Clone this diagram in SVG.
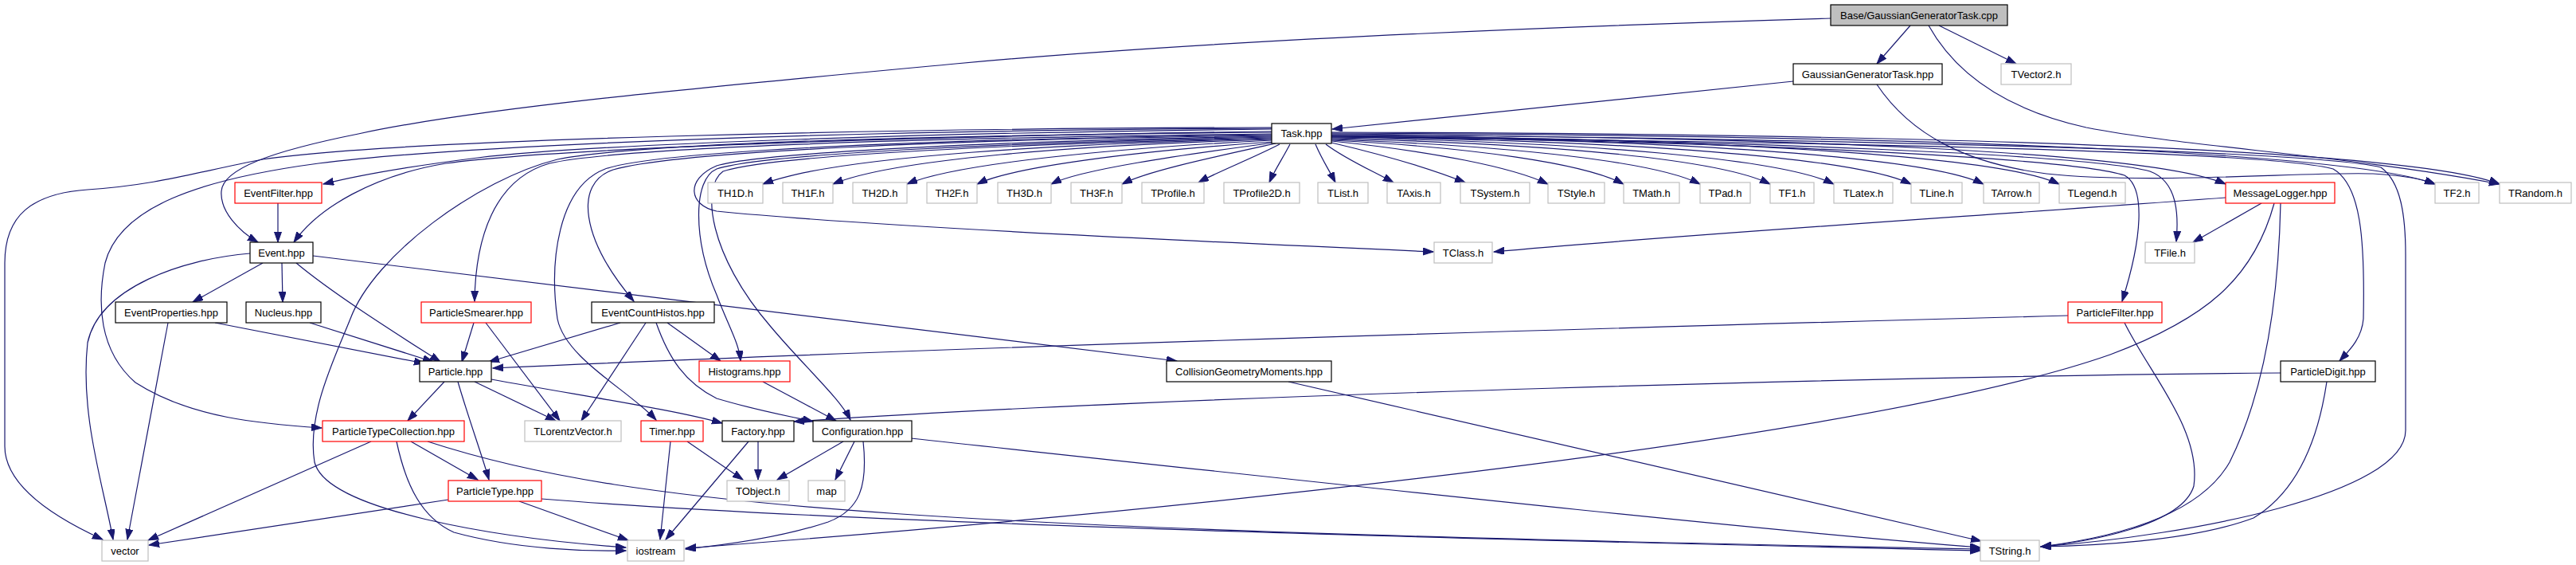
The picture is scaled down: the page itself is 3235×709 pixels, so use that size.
<svg xmlns="http://www.w3.org/2000/svg" width="3235" height="709" viewBox="0 0 3235 709">
<style>
rect{fill:#fff;stroke:#000;stroke-width:1.2}
.red rect{stroke:#ff0000}
.ext rect{stroke:#bfbfbf}
.root rect{fill:#bfbfbf}
text{font-family:"Liberation Sans",Arial,sans-serif;font-size:13px;text-anchor:middle;fill:#000}
#edges path{fill:none;stroke:#191970;stroke-width:1.2;marker-end:url(#ah)}
</style>
<defs>
<marker id="ah" markerUnits="userSpaceOnUse" markerWidth="14" markerHeight="10" refX="13" refY="4.5" orient="auto">
<path d="M0,0 L13,4.5 L0,9 z" fill="#191970" stroke="#191970" stroke-width="1"/>
</marker>
</defs>
<rect x="0" y="0" width="3235" height="709" style="fill:#fff;stroke:none"/>
<g id="edges">
<path d="M2399,32 L2357,80"/>
<path d="M2435,32 L2532,80"/>
<path d="M2422,32 C2460,100 2530,140 2620,160 C2750,185 2950,195 3139,231"/>
<path d="M2299,23 C1900,35 1500,52 1200,80 C900,108 600,135 450,168 C340,190 280,212 278,240 C276,265 300,290 324,304"/>
<path d="M2252,102 L1673,162"/>
<path d="M2357,106 C2400,170 2470,205 2570,218 C2700,232 2900,215 2980,218 C3020,220 3045,226 3058,231"/>
<path d="M1597,162 C1200,166 750,180 600,198 C520,208 450,220 406,231"/>
<path d="M1597,165 C1200,170 700,185 560,205 C470,220 400,260 369,304"/>
<path d="M1597,160 C1100,161 500,175 330,200 C250,215 200,232 110,238 C40,243 6,270 6,330 L6,560 C6,610 70,650 129,677"/>
<path d="M1597,161 C1100,163 600,180 400,205 C250,225 150,260 132,330 C122,380 124,440 170,480 C240,525 330,532 404,537"/>
<path d="M1597,166 C1150,170 800,180 700,200 C600,225 470,320 440,400 C420,450 385,520 395,580 C410,640 620,675 786,687"/>
<path d="M1597,168 C1150,173 780,185 690,205 C620,225 597,300 596,378"/>
<path d="M1597,170 C1200,175 850,190 770,213 C720,230 730,300 796,378"/>
<path d="M1597,169 C1200,174 830,188 760,212 C700,235 690,330 700,400 C710,450 790,490 824,527"/>
<path d="M1597,172 C1300,178 960,192 900,212 C870,225 870,300 900,370 C915,410 928,430 930,453"/>
<path d="M1597,173 C1300,180 970,194 908,215 C880,235 890,320 968,410 C1010,460 1055,500 1068,527"/>
<path d="M1597,171 C1300,176 960,190 900,208 C860,225 865,258 900,265 C1100,285 1550,305 1800,316"/>
<path d="M1597,174 C1350,180 1050,195 958,231"/>
<path d="M1597,175 C1350,182 1120,200 1046,231"/>
<path d="M1597,176 C1400,186 1200,205 1139,231"/>
<path d="M1598,178 C1420,190 1270,210 1227,231"/>
<path d="M1600,179 C1480,195 1355,213 1320,231"/>
<path d="M1602,180 C1520,198 1440,215 1409,231"/>
<path d="M1607,181 C1570,200 1530,215 1505,229"/>
<path d="M1620,181 C1610,200 1600,215 1594,229"/>
<path d="M1652,181 C1660,200 1670,215 1677,229"/>
<path d="M1665,181 C1690,200 1725,215 1750,229"/>
<path d="M1672,179 C1740,195 1800,213 1840,229"/>
<path d="M1672,177 C1800,190 1900,210 1944,231"/>
<path d="M1672,176 C1850,185 1990,205 2039,231"/>
<path d="M1672,175 C1900,183 2080,203 2135,231"/>
<path d="M1672,174 C1950,180 2160,200 2223,231"/>
<path d="M1672,173 C2000,178 2240,200 2303,231"/>
<path d="M1672,172 C2050,176 2330,198 2400,231"/>
<path d="M1672,171 C2100,175 2420,196 2491,231"/>
<path d="M1672,170 C2150,174 2510,195 2586,231"/>
<path d="M1672,169 C2250,172 2700,190 2795,231"/>
<path d="M1672,167 C2400,170 2950,190 3058,231"/>
<path d="M1672,166 C2450,168 3030,188 3139,231"/>
<path d="M1672,170 C2200,176 2630,195 2700,215 C2735,228 2736,270 2733,303"/>
<path d="M1672,171 C2200,178 2600,198 2668,220 C2695,235 2690,300 2665,378"/>
<path d="M1672,172 C2300,178 2850,190 2930,212 C2965,232 2970,300 2968,400 C2966,425 2950,440 2938,453"/>
<path d="M1672,168 C2300,175 2900,188 2990,210 C3015,228 3021,270 3021,320 L3021,540 C3021,620 2750,672 2563,686"/>
<path d="M2795,248 C2500,270 2100,295 1876,316"/>
<path d="M2840,255 L2754,304"/>
<path d="M2864,255 C2862,350 2850,480 2800,580 C2760,650 2650,675 2563,686"/>
<path d="M2856,255 C2830,350 2770,400 2650,445 C2350,550 1500,640 861,688"/>
<path d="M2597,396 C2000,412 1200,435 619,462"/>
<path d="M2668,405 C2700,470 2765,540 2755,610 C2740,660 2620,680 2563,686"/>
<path d="M2922,479 C2910,560 2880,620 2830,650 C2750,680 2620,685 2563,686"/>
<path d="M2864,468 C2400,472 1500,495 997,529"/>
<path d="M349,255 L349,304"/>
<path d="M330,330 L242,379"/>
<path d="M354,330 L355,379"/>
<path d="M372,330 C420,370 500,420 553,454"/>
<path d="M314,318 C230,325 125,360 110,430 C100,520 130,610 142,677"/>
<path d="M393,321 C800,370 1200,420 1478,453"/>
<path d="M270,405 L533,456"/>
<path d="M211,405 L160,677"/>
<path d="M389,405 L544,454"/>
<path d="M595,405 L580,454"/>
<path d="M610,405 L703,528"/>
<path d="M779,405 L614,454"/>
<path d="M811,405 L730,528"/>
<path d="M838,405 L905,453"/>
<path d="M824,405 C840,450 860,480 900,500 C950,515 990,522 1021,529"/>
<path d="M558,479 L512,528"/>
<path d="M575,479 C590,530 605,570 614,602"/>
<path d="M596,479 L698,528"/>
<path d="M617,476 C750,500 850,515 907,531"/>
<path d="M958,479 L1050,528"/>
<path d="M466,554 L186,678"/>
<path d="M498,554 C510,610 530,650 570,668 C650,690 740,692 786,691"/>
<path d="M516,554 L600,602"/>
<path d="M537,554 C800,640 1200,665 2487,689"/>
<path d="M563,627 L187,684"/>
<path d="M652,629 L789,678"/>
<path d="M680,626 C1100,660 2000,680 2487,691"/>
<path d="M842,554 L829,677"/>
<path d="M863,554 L933,602"/>
<path d="M940,554 L836,677"/>
<path d="M952,554 L952,602"/>
<path d="M1059,554 L976,602"/>
<path d="M1073,554 L1049,602"/>
<path d="M1084,554 C1090,610 1080,640 1040,655 C980,675 900,685 861,689"/>
<path d="M1144,550 C1700,610 2200,665 2487,687"/>
<path d="M1618,479 L2488,679"/>
</g>
<g id="n_base" class="root"><rect x="2299" y="6" width="222" height="26"/><text x="2410" y="23.5">Base/GaussianGeneratorTask.cpp</text></g>
<g id="n_ggt"><rect x="2252" y="80" width="187" height="26"/><text x="2345.5" y="97.5">GaussianGeneratorTask.hpp</text></g>
<g id="n_tvector2" class="ext"><rect x="2513" y="80" width="88" height="26"/><text x="2557" y="97.5">TVector2.h</text></g>
<g id="n_task"><rect x="1597" y="155" width="75" height="25"/><text x="1634.5" y="172">Task.hpp</text></g>
<g id="n_eventfilter" class="red"><rect x="295" y="229" width="109" height="26"/><text x="349.5" y="246.5">EventFilter.hpp</text></g>
<g id="n_th1d" class="ext"><rect x="889" y="229" width="69" height="26"/><text x="923.5" y="246.5">TH1D.h</text></g>
<g id="n_th1f" class="ext"><rect x="983" y="229" width="63" height="26"/><text x="1014.5" y="246.5">TH1F.h</text></g>
<g id="n_th2d" class="ext"><rect x="1071" y="229" width="68" height="26"/><text x="1105" y="246.5">TH2D.h</text></g>
<g id="n_th2f" class="ext"><rect x="1164" y="229" width="63" height="26"/><text x="1195.5" y="246.5">TH2F.h</text></g>
<g id="n_th3d" class="ext"><rect x="1253" y="229" width="67" height="26"/><text x="1286.5" y="246.5">TH3D.h</text></g>
<g id="n_th3f" class="ext"><rect x="1345" y="229" width="64" height="26"/><text x="1377" y="246.5">TH3F.h</text></g>
<g id="n_tprofile" class="ext"><rect x="1434" y="229" width="78" height="26"/><text x="1473" y="246.5">TProfile.h</text></g>
<g id="n_tprofile2d" class="ext"><rect x="1537" y="229" width="95" height="26"/><text x="1584.5" y="246.5">TProfile2D.h</text></g>
<g id="n_tlist" class="ext"><rect x="1655" y="229" width="63" height="26"/><text x="1686.5" y="246.5">TList.h</text></g>
<g id="n_taxis" class="ext"><rect x="1742" y="229" width="67" height="26"/><text x="1775.5" y="246.5">TAxis.h</text></g>
<g id="n_tsystem" class="ext"><rect x="1834" y="229" width="87" height="26"/><text x="1877.5" y="246.5">TSystem.h</text></g>
<g id="n_tstyle" class="ext"><rect x="1944" y="229" width="71" height="26"/><text x="1979.5" y="246.5">TStyle.h</text></g>
<g id="n_tmath" class="ext"><rect x="2039" y="229" width="70" height="26"/><text x="2074" y="246.5">TMath.h</text></g>
<g id="n_tpad" class="ext"><rect x="2135" y="229" width="63" height="26"/><text x="2166.5" y="246.5">TPad.h</text></g>
<g id="n_tf1" class="ext"><rect x="2223" y="229" width="55" height="26"/><text x="2250.5" y="246.5">TF1.h</text></g>
<g id="n_tlatex" class="ext"><rect x="2303" y="229" width="74" height="26"/><text x="2340" y="246.5">TLatex.h</text></g>
<g id="n_tline" class="ext"><rect x="2400" y="229" width="64" height="26"/><text x="2432" y="246.5">TLine.h</text></g>
<g id="n_tarrow" class="ext"><rect x="2491" y="229" width="70" height="26"/><text x="2526" y="246.5">TArrow.h</text></g>
<g id="n_tlegend" class="ext"><rect x="2586" y="229" width="83" height="26"/><text x="2627.5" y="246.5">TLegend.h</text></g>
<g id="n_messagelogger" class="red"><rect x="2795" y="229" width="137" height="26"/><text x="2863.5" y="246.5">MessageLogger.hpp</text></g>
<g id="n_tf2" class="ext"><rect x="3058" y="229" width="55" height="26"/><text x="3085.5" y="246.5">TF2.h</text></g>
<g id="n_trandom" class="ext"><rect x="3139" y="229" width="90" height="26"/><text x="3184" y="246.5">TRandom.h</text></g>
<g id="n_event"><rect x="314" y="304" width="79" height="26"/><text x="353.5" y="321.5">Event.hpp</text></g>
<g id="n_tclass" class="ext"><rect x="1801" y="304" width="73" height="26"/><text x="1837.5" y="321.5">TClass.h</text></g>
<g id="n_tfile" class="ext"><rect x="2694" y="304" width="62" height="26"/><text x="2725" y="321.5">TFile.h</text></g>
<g id="n_eventproperties"><rect x="145" y="379" width="140" height="26"/><text x="215" y="396.5">EventProperties.hpp</text></g>
<g id="n_nucleus"><rect x="309" y="379" width="94" height="26"/><text x="356" y="396.5">Nucleus.hpp</text></g>
<g id="n_particlesmearer" class="red"><rect x="529" y="379" width="138" height="26"/><text x="598" y="396.5">ParticleSmearer.hpp</text></g>
<g id="n_eventcounthistos"><rect x="743" y="379" width="154" height="26"/><text x="820" y="396.5">EventCountHistos.hpp</text></g>
<g id="n_particlefilter" class="red"><rect x="2597" y="379" width="118" height="26"/><text x="2656" y="396.5">ParticleFilter.hpp</text></g>
<g id="n_particle"><rect x="527" y="453" width="90" height="26"/><text x="572" y="470.5">Particle.hpp</text></g>
<g id="n_histograms" class="red"><rect x="878" y="453" width="114" height="26"/><text x="935" y="470.5">Histograms.hpp</text></g>
<g id="n_cgm"><rect x="1465" y="453" width="207" height="26"/><text x="1568.5" y="470.5">CollisionGeometryMoments.hpp</text></g>
<g id="n_particledigit"><rect x="2864" y="453" width="119" height="26"/><text x="2923.5" y="470.5">ParticleDigit.hpp</text></g>
<g id="n_ptc" class="red"><rect x="405" y="528" width="178" height="26"/><text x="494" y="545.5">ParticleTypeCollection.hpp</text></g>
<g id="n_tlorentzvector" class="ext"><rect x="659" y="528" width="121" height="26"/><text x="719.5" y="545.5">TLorentzVector.h</text></g>
<g id="n_timer" class="red"><rect x="805" y="528" width="78" height="26"/><text x="844" y="545.5">Timer.hpp</text></g>
<g id="n_factory"><rect x="907" y="528" width="90" height="26"/><text x="952" y="545.5">Factory.hpp</text></g>
<g id="n_configuration"><rect x="1021" y="528" width="124" height="26"/><text x="1083" y="545.5">Configuration.hpp</text></g>
<g id="n_particletype" class="red"><rect x="563" y="603" width="117" height="26"/><text x="621.5" y="620.5">ParticleType.hpp</text></g>
<g id="n_tobject" class="ext"><rect x="913" y="603" width="78" height="26"/><text x="952" y="620.5">TObject.h</text></g>
<g id="n_map" class="ext"><rect x="1015" y="603" width="46" height="26"/><text x="1038" y="620.5">map</text></g>
<g id="n_vector" class="ext"><rect x="128" y="678" width="58" height="26"/><text x="157" y="695.5">vector</text></g>
<g id="n_iostream" class="ext"><rect x="788" y="678" width="71" height="26"/><text x="823.5" y="695.5">iostream</text></g>
<g id="n_tstring" class="ext"><rect x="2487" y="678" width="74" height="26"/><text x="2524" y="695.5">TString.h</text></g>
</svg>
